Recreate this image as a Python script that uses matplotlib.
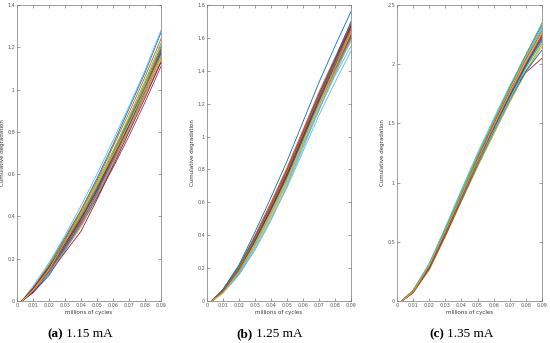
import matplotlib
matplotlib.use("Agg")
import matplotlib.pyplot as plt
import numpy as np

# sample points along x (millions of cycles), shared by every curve
cycles = [0.003, 0.01, 0.02, 0.03, 0.04, 0.05, 0.06, 0.07, 0.08, 0.09]

deg_115 = [
    [0, 0.06, 0.17, 0.30, 0.43, 0.58, 0.74, 0.91, 1.08, 1.27],
    [0, 0.05, 0.15, 0.27, 0.40, 0.54, 0.69, 0.85, 1.01, 1.19],
    [0, 0.04, 0.13, 0.24, 0.35, 0.49, 0.64, 0.80, 0.97, 1.15],
    [0, 0.05, 0.14, 0.26, 0.38, 0.52, 0.67, 0.83, 0.99, 1.16],
    [0, 0.06, 0.16, 0.28, 0.41, 0.55, 0.70, 0.86, 1.02, 1.20],
    [0, 0.07, 0.18, 0.31, 0.45, 0.60, 0.76, 0.92, 1.09, 1.28],
    [0, 0.05, 0.14, 0.25, 0.37, 0.51, 0.66, 0.81, 0.97, 1.13],
    [0, 0.04, 0.12, 0.24, 0.36, 0.50, 0.65, 0.81, 0.98, 1.17],
    [0, 0.05, 0.16, 0.28, 0.40, 0.53, 0.68, 0.84, 1.00, 1.18],
    [0, 0.06, 0.15, 0.26, 0.38, 0.52, 0.67, 0.82, 0.98, 1.14],
    [0, 0.05, 0.14, 0.25, 0.36, 0.49, 0.63, 0.78, 0.94, 1.11],
    [0, 0.06, 0.17, 0.29, 0.42, 0.56, 0.71, 0.87, 1.04, 1.22],
    [0, 0.05, 0.15, 0.27, 0.39, 0.53, 0.69, 0.85, 1.02, 1.21],
    [0, 0.04, 0.13, 0.23, 0.33, 0.48, 0.64, 0.80, 0.96, 1.13],
    [0, 0.05, 0.16, 0.28, 0.41, 0.54, 0.68, 0.83, 0.99, 1.17],
    [0, 0.06, 0.16, 0.29, 0.43, 0.57, 0.73, 0.89, 1.06, 1.24],
    [0, 0.05, 0.14, 0.26, 0.38, 0.51, 0.65, 0.81, 0.97, 1.15],
    [0, 0.04, 0.14, 0.26, 0.39, 0.53, 0.68, 0.83, 0.99, 1.16],
    [0, 0.05, 0.15, 0.27, 0.40, 0.54, 0.70, 0.86, 1.03, 1.20],
    [0, 0.05, 0.13, 0.24, 0.36, 0.50, 0.66, 0.82, 0.99, 1.16],
    [0, 0.06, 0.16, 0.27, 0.39, 0.52, 0.67, 0.83, 1.00, 1.19],
    [0, 0.05, 0.15, 0.26, 0.38, 0.53, 0.69, 0.85, 1.01, 1.18],
    [0, 0.05, 0.14, 0.25, 0.37, 0.51, 0.67, 0.84, 1.01, 1.19],
    [0, 0.05, 0.15, 0.28, 0.41, 0.55, 0.69, 0.84, 1.00, 1.16],
]

deg_125 = [
    [0, 0.07, 0.22, 0.42, 0.63, 0.85, 1.09, 1.33, 1.55, 1.76],
    [0, 0.06, 0.19, 0.37, 0.56, 0.77, 1.00, 1.23, 1.45, 1.66],
    [0, 0.05, 0.17, 0.34, 0.52, 0.72, 0.94, 1.16, 1.38, 1.60],
    [0, 0.06, 0.20, 0.38, 0.58, 0.78, 1.01, 1.24, 1.46, 1.67],
    [0, 0.06, 0.19, 0.36, 0.55, 0.75, 0.98, 1.21, 1.43, 1.63],
    [0, 0.05, 0.16, 0.32, 0.50, 0.69, 0.91, 1.13, 1.33, 1.52],
    [0, 0.06, 0.20, 0.39, 0.59, 0.80, 1.03, 1.26, 1.47, 1.68],
    [0, 0.06, 0.18, 0.35, 0.54, 0.75, 0.98, 1.20, 1.41, 1.61],
    [0, 0.07, 0.21, 0.40, 0.60, 0.81, 1.04, 1.27, 1.48, 1.69],
    [0, 0.05, 0.17, 0.33, 0.51, 0.71, 0.94, 1.17, 1.39, 1.58],
    [0, 0.06, 0.19, 0.37, 0.57, 0.78, 1.01, 1.24, 1.46, 1.67],
    [0, 0.06, 0.18, 0.36, 0.55, 0.76, 0.99, 1.22, 1.44, 1.65],
    [0, 0.05, 0.16, 0.31, 0.49, 0.70, 0.93, 1.16, 1.38, 1.59],
    [0, 0.06, 0.20, 0.38, 0.57, 0.77, 1.00, 1.22, 1.43, 1.62],
    [0, 0.07, 0.21, 0.39, 0.58, 0.79, 1.02, 1.25, 1.47, 1.70],
    [0, 0.06, 0.19, 0.36, 0.55, 0.75, 0.97, 1.19, 1.40, 1.60],
    [0, 0.05, 0.18, 0.35, 0.54, 0.74, 0.96, 1.19, 1.42, 1.64],
    [0, 0.06, 0.19, 0.37, 0.56, 0.76, 0.99, 1.21, 1.42, 1.62],
    [0, 0.06, 0.20, 0.38, 0.57, 0.78, 1.01, 1.23, 1.45, 1.66],
    [0, 0.05, 0.17, 0.34, 0.53, 0.73, 0.95, 1.17, 1.37, 1.55],
    [0, 0.06, 0.19, 0.37, 0.56, 0.77, 1.00, 1.23, 1.45, 1.67],
    [0, 0.06, 0.18, 0.36, 0.55, 0.76, 0.99, 1.22, 1.43, 1.63],
    [0, 0.06, 0.19, 0.38, 0.58, 0.79, 1.02, 1.24, 1.45, 1.65],
    [0, 0.05, 0.18, 0.35, 0.54, 0.74, 0.97, 1.20, 1.42, 1.63],
]

deg_135 = [
    [0, 0.09, 0.31, 0.61, 0.92, 1.23, 1.52, 1.81, 2.08, 2.33],
    [0, 0.08, 0.29, 0.58, 0.88, 1.18, 1.46, 1.74, 1.98, 2.20],
    [0, 0.08, 0.30, 0.60, 0.91, 1.22, 1.51, 1.79, 2.05, 2.30],
    [0, 0.07, 0.27, 0.56, 0.86, 1.16, 1.45, 1.72, 1.97, 2.21],
    [0, 0.08, 0.28, 0.56, 0.85, 1.14, 1.41, 1.68, 1.94, 2.17],
    [0, 0.09, 0.32, 0.62, 0.93, 1.23, 1.52, 1.80, 2.06, 2.31],
    [0, 0.08, 0.29, 0.58, 0.89, 1.20, 1.49, 1.76, 1.93, 2.05],
    [0, 0.08, 0.28, 0.57, 0.87, 1.17, 1.46, 1.73, 1.99, 2.24],
    [0, 0.09, 0.30, 0.59, 0.90, 1.21, 1.50, 1.77, 2.02, 2.25],
    [0, 0.07, 0.26, 0.54, 0.84, 1.13, 1.41, 1.68, 1.93, 2.15],
    [0, 0.08, 0.29, 0.59, 0.90, 1.20, 1.49, 1.77, 2.04, 2.28],
    [0, 0.08, 0.30, 0.60, 0.90, 1.19, 1.46, 1.72, 1.97, 2.19],
    [0, 0.09, 0.31, 0.62, 0.94, 1.25, 1.54, 1.82, 2.07, 2.29],
    [0, 0.08, 0.28, 0.56, 0.86, 1.16, 1.45, 1.73, 1.99, 2.24],
    [0, 0.07, 0.27, 0.55, 0.85, 1.15, 1.43, 1.70, 1.94, 2.12],
    [0, 0.08, 0.29, 0.58, 0.88, 1.18, 1.47, 1.75, 2.01, 2.26],
    [0, 0.08, 0.30, 0.59, 0.89, 1.19, 1.48, 1.76, 2.03, 2.27],
    [0, 0.08, 0.28, 0.57, 0.87, 1.17, 1.46, 1.74, 2.00, 2.23],
    [0, 0.09, 0.30, 0.60, 0.91, 1.22, 1.51, 1.80, 2.08, 2.35],
    [0, 0.08, 0.29, 0.58, 0.87, 1.16, 1.44, 1.71, 1.97, 2.21],
    [0, 0.08, 0.28, 0.57, 0.88, 1.19, 1.48, 1.75, 2.01, 2.25],
    [0, 0.08, 0.29, 0.59, 0.89, 1.19, 1.47, 1.74, 1.99, 2.22],
    [0, 0.07, 0.27, 0.56, 0.86, 1.17, 1.47, 1.75, 2.01, 2.24],
    [0, 0.08, 0.30, 0.59, 0.89, 1.19, 1.48, 1.76, 2.02, 2.26],
]

panel_tags = ["(a)", "(b)", "(c)"]
panel_currents = ["1.15 mA", "1.25 mA", "1.35 mA"]
y_ticks = [
    [0, 0.2, 0.4, 0.6, 0.8, 1, 1.2, 1.4],
    [0, 0.2, 0.4, 0.6, 0.8, 1, 1.2, 1.4, 1.6, 1.8],
    [0, 0.5, 1, 1.5, 2, 2.5],
]
x_ticks = [0, 0.01, 0.02, 0.03, 0.04, 0.05, 0.06, 0.07, 0.08, 0.09]

matlab_colors = ["#0072BD", "#D95319", "#EDB120", "#7E2F8E",
                 "#77AC30", "#4DBEEE", "#A2142F"]

W, H = 550, 343
fig = plt.figure(figsize=(W / 100, H / 100), dpi=100)

# axes boxes in pixels: left, right
boxes = [(17, 161), (207, 351), (397, 542)]
top_px, bot_px = 5, 301
# caption split point (end of tag) in pixels
cap_split = [63, 253, 444]

for i, data in enumerate([deg_115, deg_125, deg_135]):
    l, r = boxes[i]
    ax = fig.add_axes([l / W, (H - bot_px) / H, (r - l) / W, (bot_px - top_px) / H])
    for k, ys in enumerate(data):
        ax.plot(cycles, ys, color=matlab_colors[k % 7], lw=0.6)
    ax.set_xlim(0, 0.09)
    ax.set_ylim(y_ticks[i][0], y_ticks[i][-1])
    ax.set_xticks(x_ticks)
    ax.set_yticks(y_ticks[i])
    ax.set_xticklabels(["%g" % t for t in x_ticks])
    ax.set_yticklabels(["%g" % t for t in y_ticks[i]])
    ax.tick_params(direction="in", length=2, width=0.4, labelsize=3.5,
                   colors="#555555", top=True, right=True, pad=1.5)
    for s in ax.spines.values():
        s.set_color("#777777")
        s.set_linewidth(0.5)
    ax.set_xlabel("millions of cycles", fontsize=4, color="#333333", labelpad=1.5)
    ax.set_ylabel("Cumulative degradation", fontsize=4, color="#333333", labelpad=1.5)

    fig.text(cap_split[i] / W, 9 / H, panel_tags[i], ha="right", va="center",
             fontsize=9.5, fontweight="bold", family="Liberation Serif")
    fig.text((cap_split[i] + 3) / W, 9 / H, panel_currents[i], ha="left", va="center",
             fontsize=9.5, family="Liberation Serif")

fig.savefig("out.png", dpi=100)
